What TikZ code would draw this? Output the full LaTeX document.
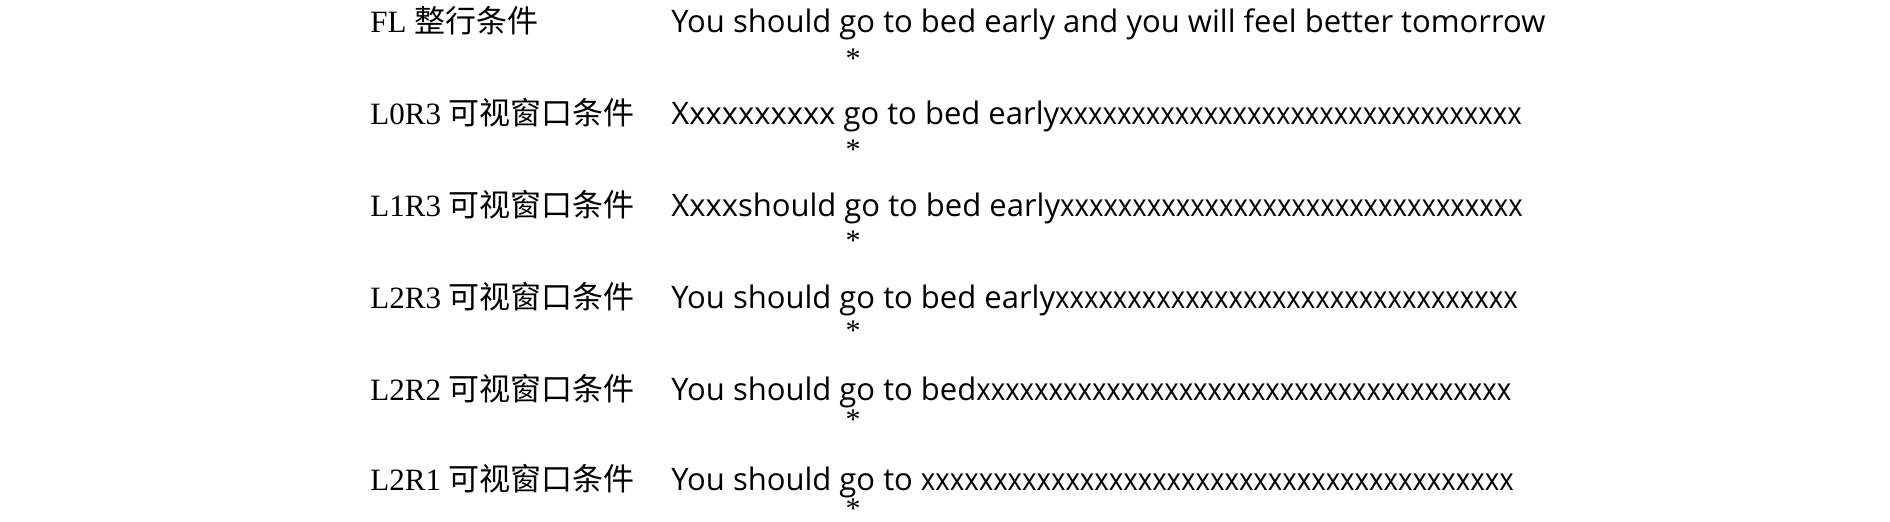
\documentclass[tikz,border=0pt]{standalone}
\usepackage{fontspec}
\setmainfont{Liberation Serif}
\newfontfamily\cjk{Noto Sans CJK SC}
\newfontfamily\sansf{Open Sans}
\newcommand{\xrun}[1]{\scalebox{0.89}[1]{#1}}
\begin{document}
\begin{tikzpicture}[x=0.5pt,y=-0.5pt,
  lbl/.style={anchor=base west,inner sep=0pt,font=\fontsize{15.5}{18}\selectfont},
  txt/.style={anchor=base west,inner sep=0pt,font=\sansf\fontsize{15.5}{18}\selectfont},
  star/.style={anchor=center,inner sep=0pt,text depth=0pt,font=\fontsize{15}{18}\selectfont}]
\useasboundingbox (0,0) rectangle (1890,522);
\node[lbl] (l1) at (370,33) {FL {\cjk 整行条件}};
\node[lbl] (l2) at (370,125) {L0R3 {\cjk 可视窗口条件}};
\node[lbl] (l3) at (370,217) {L1R3 {\cjk 可视窗口条件}};
\node[lbl] (l4) at (370,309) {L2R3 {\cjk 可视窗口条件}};
\node[lbl] (l5) at (370,401) {L2R2 {\cjk 可视窗口条件}};
\node[lbl] (l6) at (370,491) {L2R1 {\cjk 可视窗口条件}};
\node[txt] (t1) at (671,33) {You should go to bed early and you will feel better tomorrow};
\node[txt] (t2) at (671,125) {Xxxxxxxxxx go to bed early\xrun{xxxxxxxxxxxxxxxxxxxxxxxxxxxxxxxx}};
\node[txt] (t3) at (671,217) {Xxxxshould go to bed early\xrun{xxxxxxxxxxxxxxxxxxxxxxxxxxxxxxxx}};
\node[txt] (t4) at (671,309) {You should go to bed early\xrun{xxxxxxxxxxxxxxxxxxxxxxxxxxxxxxxx}};
\node[txt] (t5) at (671,401) {You should go to bed\xrun{xxxxxxxxxxxxxxxxxxxxxxxxxxxxxxxxxxxxx}};
\node[txt] (t6) at (671,491) {You should go to \xrun{xxxxxxxxxxxxxxxxxxxxxxxxxxxxxxxxxxxxxxxxx}};
\node[star] (s1) at (853,59) {*};
\node[star] (s2) at (853,149.6) {*};
\node[star] (s3) at (853,240.2) {*};
\node[star] (s4) at (853,330.8) {*};
\node[star] (s5) at (853,420) {*};
\node[star] (s6) at (853,509) {*};
\end{tikzpicture}
\end{document}
